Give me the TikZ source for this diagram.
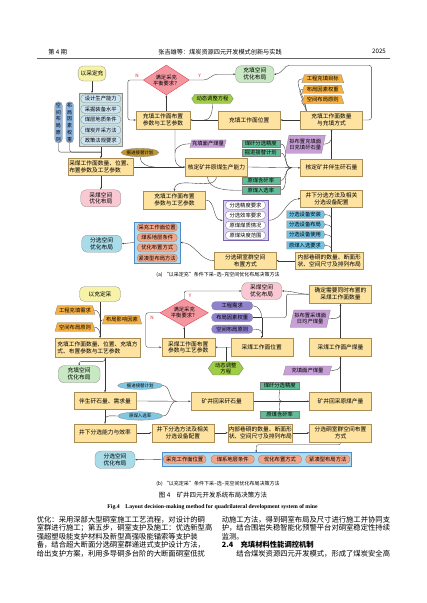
\documentclass[tikz,border=0pt]{standalone}
\usepackage{fontspec}
\setmainfont{Noto Sans CJK SC}
\newfontfamily\enfont{Liberation Serif}
\usepackage{tikz}
\usetikzlibrary{arrows.meta, positioning, calc, shapes.geometric, shapes.symbols, backgrounds}

\newcommand{\pxu}{1.3946pt}
\newcommand{\boxfont}{\fontsize{8pt}{9.6pt}\selectfont}
\newcommand{\tagfont}{\fontsize{7.4pt}{8.4pt}\selectfont}
\newcommand{\ovalfont}{\fontsize{6.2pt}{7pt}\selectfont}
\newcommand{\bodyfont}{\fontsize{10.2pt}{12pt}\selectfont}

\definecolor{boxfill}{RGB}{253,226,160}
\definecolor{boxline}{RGB}{170,140,85}
\definecolor{startfill}{RGB}{246,242,168}
\definecolor{pinkfill}{RGB}{249,200,210}
\definecolor{greenfill}{RGB}{200,232,196}
\definecolor{cyanfill}{RGB}{168,220,232}
\definecolor{decfill}{RGB}{244,150,160}
\definecolor{decline}{RGB}{225,60,75}
\definecolor{hexfill}{RGB}{160,205,70}
\definecolor{trapfill}{RGB}{245,176,65}
\definecolor{parafill}{RGB}{200,160,215}
\definecolor{tealfill}{RGB}{96,190,150}
\definecolor{goldfill}{RGB}{190,150,50}
\definecolor{skyfill}{RGB}{128,200,228}
\definecolor{tagfill}{RGB}{112,196,232}
\definecolor{violfill}{RGB}{145,130,205}
\definecolor{salmfill}{RGB}{242,165,135}
\definecolor{lavfill}{RGB}{218,210,240}
\definecolor{lavline}{RGB}{120,100,175}
\definecolor{mistfill}{RGB}{204,224,218}
\definecolor{icefill}{RGB}{205,228,242}
\definecolor{paleblue}{RGB}{178,218,236}
\definecolor{frameblue}{RGB}{80,140,200}
\definecolor{vblue}{RGB}{140,180,225}
\definecolor{lineclr}{RGB}{55,55,55}
\definecolor{nyred}{RGB}{220,40,40}

\tikzset{
  box/.style={
    rectangle, draw=boxline, fill=boxfill, line width=0.4pt,
    align=center, font=\boxfont, inner sep=1pt,
    minimum width=62*\pxu, minimum height=17.5*\pxu
  },
  start/.style={
    rectangle, rounded corners=7pt, draw=black!45, fill=startfill, line width=0.4pt,
    font=\boxfont, minimum width=22*\pxu, minimum height=15*\pxu
  },
  result/.style={
    rectangle, rounded corners=8pt, draw=black!45, line width=0.4pt,
    align=center, font=\boxfont, minimum width=40*\pxu, minimum height=16.5*\pxu
  },
  decision/.style={
    diamond, aspect=1.6, draw=decline, fill=decfill, line width=0.5pt,
    align=center, font=\tagfont, inner sep=0pt
  },
  hexa/.style={
    signal, signal to=east and west, signal pointer angle=110,
    draw=black!55, fill=hexfill, line width=0.4pt, align=center, font=\tagfont, inner sep=1pt
  },
  trap/.style={
    trapezium, trapezium left angle=68, trapezium right angle=68, trapezium stretches=true,
    draw=black!50, fill=trapfill, line width=0.4pt, font=\tagfont, inner sep=0.5pt,
    minimum width=42*\pxu, minimum height=8*\pxu
  },
  para/.style={
    trapezium, trapezium left angle=72, trapezium right angle=108, trapezium stretches=true,
    draw=black!50, fill=parafill, line width=0.4pt, align=center, font=\tagfont, inner sep=0.5pt
  },
  flag/.style={
    rectangle, draw=black!50, fill=tealfill, line width=0.4pt, font=\tagfont, inner sep=0.5pt,
    minimum width=38*\pxu, minimum height=7.5*\pxu
  },
  oval/.style={
    ellipse, draw=black!50, line width=0.4pt, font=\ovalfont, inner sep=0pt,
    minimum width=42*\pxu, minimum height=8*\pxu
  },
  chip/.style={
    rectangle, rounded corners=5pt, draw=black!50, line width=0.4pt, font=\tagfont,
    inner sep=0.5pt, minimum width=40*\pxu, minimum height=8*\pxu
  },
  tag/.style={
    signal, signal to=east, signal pointer angle=130, draw=black!50, fill=tagfill,
    line width=0.4pt, font=\tagfont, inner sep=0.5pt,
    minimum width=38*\pxu, minimum height=7.5*\pxu
  },
  panel/.style={rectangle, line width=0.5pt, inner sep=0pt},
  arrow/.style={->, >={Stealth[length=3.2pt,width=2.4pt]}, line width=0.5pt, color=lineclr},
  link/.style={line width=0.5pt, color=lineclr},
  yn/.style={text=nyred, font=\fontsize{6.5pt}{7pt}\selectfont, inner sep=0pt},
  bodyline/.style={anchor=west, font=\bodyfont, inner sep=0pt}
}

\begin{document}
\begin{tikzpicture}[x=1.3946pt, y=-1.3946pt]
\useasboundingbox (0,0) rectangle (427,603);

% page head
\node[anchor=west, font=\fontsize{8.6pt}{9pt}\selectfont, inner sep=0pt] (issue) at (48.3,51.7) {第 4 期};
\node[font=\fontsize{8.6pt}{9pt}\selectfont, inner sep=0pt] (runhead) at (220,51.7) {张吉雄等：煤炭资源四元开发模式创新与实践};
\node[anchor=east, font=\fontsize{8.6pt}{9pt}\selectfont, inner sep=0pt] (year) at (386,51.7) {2025};
\draw[black!60, line width=0.6pt] (36.7,58.3) -- (390,58.3);

% ---------- (a) ----------
\node[start] (startA) at (92,73.5) {以采定充};
\node[panel, draw=black!45, fill=mistfill, minimum width=43.7*\pxu, minimum height=52.4*\pxu] (factA) at (100.8,119.5) {};
\node[chip, fill=icefill] (fA1) at (100.8,98.8) {设计生产能力};
\node[chip, fill=icefill] (fA2) at (100.8,109.2) {采掘装备水平};
\node[chip, fill=icefill] (fA3) at (100.8,119.6) {煤层地质条件};
\node[chip, fill=icefill] (fA4) at (100.8,130) {煤炭开采方法};
\node[chip, fill=icefill] (fA5) at (100.8,140.4) {政策法规要求};
\node[chip, fill=vblue, align=center, minimum width=7.5*\pxu, minimum height=41*\pxu,
  font=\fontsize{7pt}{9.4pt}\selectfont] (ruleA) at (58.5,122.3) {空\\间\\布\\局\\原\\则};
\node[chip, fill=vblue, align=center, minimum width=7.5*\pxu, minimum height=41*\pxu,
  font=\fontsize{7pt}{9.4pt}\selectfont] (weightA) at (69.7,122.3) {布\\局\\因\\素\\权\\重};
\node[box, align=left, minimum width=65.4*\pxu, minimum height=17*\pxu] (coalBoxA) at (100.8,167) {采煤工作面数量、位置、\\布置参数及工艺参数};
\node[result, fill=pinkfill] (coalSpaceA) at (100.8,198.3) {采煤空间\\优化布局};

\node[decision, minimum width=46*\pxu, minimum height=30*\pxu] (decA) at (166.3,80) {满足采充\\平衡要求？};
\node[box, minimum width=54*\pxu] (fillParamA) at (163,120) {充填工作面布置\\参数与工艺参数};
\node[hexa, minimum width=41.6*\pxu, minimum height=9*\pxu] (dynA) at (212.5,98.8) {动态调整方程};
\node[box] (fillPosA) at (249.2,120) {充填工作面位置};
\node[box] (fillNumA) at (331.5,120) {充填工作面数量\\与充填方式};
\node[result, fill=greenfill, minimum width=38.3*\pxu, minimum height=15*\pxu] (fillSpaceA) at (254.8,74.2) {充填空间\\优化布局};
\node[trap] (goalA) at (322.8,78.7) {工程充填目标};
\node[trap] (factorA) at (322.8,89.2) {布局因素权重};
\node[trap] (principleA) at (322.8,99.6) {空间布局原则};
\node[para, minimum width=36*\pxu, minimum height=18*\pxu] (dailyA) at (305.3,144.2) {拟布置充填面\\日充填矸石量};

\node[para, minimum width=36*\pxu, minimum height=7.5*\pxu] (fillCoalA) at (208,143.7) {充填面产煤量};
\node[oval, fill=goldfill, minimum width=36.6*\pxu, minimum height=8.4*\pxu] (tunnelA) at (140,152.5) {掘进接替计划};
\node[box] (capA) at (216.5,167) {核定矿井原煤生产能力};
\node[box] (gangueA) at (331.5,167.8) {核定矿井伴生矸石量};
\node[flag] (precA) at (260.8,143.7) {煤矸分选精度};
\node[flag] (planA) at (260.8,152.7) {掘进接替计划};
\node[flag] (rockA) at (260.8,180.7) {原煤含矸率};
\node[flag] (washA) at (260.8,190.3) {原煤入选率};

\node[box] (fillParam2A) at (174.5,200) {充填工作面布置\\参数与工艺参数};
\node[panel, draw=lavline, fill=lavfill, minimum width=45.6*\pxu, minimum height=40.6*\pxu] (reqA) at (245.5,220.3) {};
\node[chip, fill=white, draw=lavline] (reqA1) at (245.5,205.2) {分选精度要求};
\node[chip, fill=white, draw=lavline] (reqA2) at (245.5,215.2) {分选效率要求};
\node[chip, fill=white, draw=lavline] (reqA3) at (245.5,225.3) {原煤煤质情况};
\node[chip, fill=white, draw=lavline] (reqA4) at (245.5,235.4) {原煤块度范围};
\node[box] (sepMethA) at (331.5,198.7) {井下分选方法及相关\\分选设备配置};
\node[tag] (devA1) at (305,214.5) {分选设备安装};
\node[tag] (devA2) at (305,224.5) {分选设备布局};
\node[tag] (devA3) at (305,234.5) {分选设备使用};
\node[tag] (devA4) at (305,245.3) {原煤入选要求};
\node[box, align=left, minimum width=68.3*\pxu, minimum height=16.7*\pxu] (roadA) at (329.2,260.7) {内部巷硐的数量、断面形\\状、空间尺寸及排列布局};
\node[box, minimum height=16.7*\pxu] (chamberA) at (245.3,260.7) {分选硐室群空间\\布置方式};
\node[panel, draw=frameblue, fill=paleblue, minimum width=45.7*\pxu, minimum height=41.6*\pxu] (layoutA) at (157.2,242.5) {};
\node[chip, fill=salmfill] (layA1) at (157.2,227.5) {采充工作面位置};
\node[chip, fill=salmfill] (layA2) at (157.2,237.7) {煤系地层条件};
\node[chip, fill=salmfill] (layA3) at (157.2,247.9) {优化布置方式};
\node[chip, fill=salmfill] (layA4) at (157.2,258.1) {紧凑型布局方法};
\node[result, fill=cyanfill] (sepSpaceA) at (101.7,243.7) {分选空间\\优化布局};

\node[yn] (nA) at (137,75.5) {N};
\node[yn] (yA) at (199.5,75.5) {Y};

\node[font=\fontsize{7pt}{8pt}\selectfont, inner sep=0pt] (capa) at (218,275) {(a) “以采定充”条件下采–选–充空间优化布局决策方法};

% ---------- (b) ----------
\node[start, minimum width=41*\pxu] (startB) at (100,294) {以充定采};
\node[trap, minimum width=40*\pxu, minimum height=8.6*\pxu] (needB) at (75,310) {工程充填需求};
\node[trap, minimum width=40*\pxu, minimum height=8.6*\pxu] (principleB) at (75,327) {空间布局原则};
\node[trap, minimum width=39.3*\pxu, minimum height=8.6*\pxu] (factorB) at (122,319.7) {布局影响因素};
\node[box, align=left, minimum width=85*\pxu, minimum height=18.4*\pxu] (fillBoxB) at (97.5,347.5) {充填工作面数量、位置、充填方\\式、布置参数与工艺参数};
\node[result, fill=greenfill, minimum width=41.7*\pxu, minimum height=15*\pxu] (fillSpaceB) at (79.2,374.2) {充填空间\\优化布局};
\node[oval, fill=skyfill, minimum width=45*\pxu, minimum height=7.6*\pxu] (tunnelB) at (140.2,385.5) {掘进接替计划};
\node[oval, fill=skyfill, minimum width=45*\pxu, minimum height=8.3*\pxu] (washB) at (140.2,416) {原煤入选率};
\node[box, minimum height=17*\pxu] (gangueGenB) at (105,401) {伴生矸石量、需求量};
\node[box] (gangueMineB) at (221.7,401.3) {矿井回采矸石量};
\node[flag, minimum width=39.3*\pxu, minimum height=7.3*\pxu] (precB) at (279.7,385.3) {煤矸分选精度};
\node[flag, minimum width=39.3*\pxu, minimum height=7.6*\pxu] (rockB) at (279.7,414.5) {原煤含矸率};
\node[box] (coalMineB) at (340.5,401.3) {矿井回采原煤产量};
\node[box, minimum height=17.7*\pxu] (sepCapB) at (105,432.8) {井下分选能力与效率};
\node[box, minimum height=17.7*\pxu] (sepMethB) at (182.8,432.8) {井下分选方法及相关\\分选设备配置};
\node[box, align=left, minimum width=64*\pxu, minimum height=17.7*\pxu] (roadB) at (260.3,432.8) {内部巷硐的数量、断面形\\状、空间尺寸及排列布局};
\node[box, minimum height=17.7*\pxu] (chamberB) at (340.5,432.8) {分选硐室群空间布置\\方式};
\node[panel, draw=frameblue, fill=paleblue, minimum width=189*\pxu, minimum height=13.3*\pxu] (layoutB) at (256.2,459.3) {};
\node[chip, fill=salmfill, minimum width=42.7*\pxu] (layB1) at (184.7,459.3) {采充工作面位置};
\node[chip, fill=salmfill, minimum width=43.3*\pxu] (layB2) at (232.7,459.3) {煤系地层条件};
\node[chip, fill=salmfill, minimum width=43.3*\pxu] (layB3) at (280,459.3) {优化布置方式};
\node[chip, fill=salmfill, minimum width=44.3*\pxu] (layB4) at (327.8,459.3) {紧凑型布局方法};
\node[result, fill=cyanfill, minimum height=17.3*\pxu] (sepSpaceB) at (115,459.7) {分选空间\\优化布局};

\node[decision, minimum width=48.3*\pxu, minimum height=27.7*\pxu] (decB) at (184.2,312.8) {满足采充\\平衡要求？};
\node[box, minimum width=53.3*\pxu, minimum height=18*\pxu] (coalParamB) at (188.3,347.3) {采煤工作面布置\\参数与工艺参数};
\node[hexa, minimum width=35*\pxu, minimum height=13.3*\pxu] (dynB) at (225.8,368.3) {动态调整\\方程};
\node[box, minimum height=17.7*\pxu] (coalPosB) at (261.7,347.2) {采煤工作面位置};
\node[chip, fill=violfill, minimum width=41*\pxu, minimum height=8.3*\pxu] (needB2) at (232.2,305.8) {工程需求};
\node[chip, fill=violfill, minimum width=41*\pxu, minimum height=8.3*\pxu] (factorB2) at (232.2,317.5) {布局因素权重};
\node[chip, fill=violfill, minimum width=41*\pxu, minimum height=8.3*\pxu] (principleB2) at (232.2,329.2) {空间布局原则};
\node[result, fill=pinkfill, minimum height=15*\pxu] (coalSpaceB) at (261.7,291) {采煤空间\\优化布局};
\node[box, minimum height=18.3*\pxu] (numB) at (340.5,294.2) {确定需要同时布置的\\采煤工作面数量};
\node[para, minimum width=35*\pxu, minimum height=17.3*\pxu] (dailyB) at (310.2,318.7) {拟布置采煤面\\日均产煤量};
\node[box, minimum height=17.7*\pxu] (coalOutB) at (340.5,347.2) {采煤工作面产煤量};
\node[para, minimum width=48.4*\pxu, minimum height=9*\pxu] (fillCoalB) at (307.5,370.5) {充填面产煤量};

\node[yn] (nB) at (152,317.5) {N};
\node[yn] (yB) at (190,295.5) {Y};

\node[font=\fontsize{7pt}{8pt}\selectfont, inner sep=0pt] (capb) at (218,484) {(b) “以充定采”条件下采–选–充空间优化布局决策方法};
\node[font=\fontsize{9pt}{10pt}\selectfont, inner sep=0pt] (figcn) at (213,495.3) {图 4\quad 矿井四元开发系统布局决策方法};
\node[font=\enfont\bfseries\fontsize{8pt}{9pt}\selectfont, inner sep=0pt] (figen) at (212.5,506.7) {Fig.4\quad Layout decision-making method for quadrilateral development system of mine};

% body text
\node[bodyline] (l1) at (36.7,519.3) {优化：采用深部大型硐室施工工艺流程，对设计的硐};
\node[bodyline] (l2) at (36.7,527.9) {室群进行施工；第五步，硐室支护及施工：优选新型高};
\node[bodyline] (l3) at (36.7,536.5) {强超塑吸能支护材料及新型高强吸能锚索等支护装};
\node[bodyline] (l4) at (36.7,545.1) {备，结合超大断面分选硐室群递进式支护设计方法，};
\node[bodyline] (l5) at (36.7,553.7) {给出支护方案，利用多导硐多台阶的大断面硐室低扰};
\node[bodyline] (r1) at (221.7,519.3) {动施工方法，得到硐室布局及尺寸进行施工并协同支};
\node[bodyline] (r2) at (221.7,527.9) {护，结合围岩失稳智能化预警平台对硐室稳定性持续};
\node[bodyline] (r3) at (221.7,536.5) {监测。};
\node[bodyline] (r4) at (221.7,545.1) {\bfseries 2.4\quad 充填材料性能调控机制};
\node[bodyline] (r5) at (221.7,553.7) {\hspace{2em}结合煤炭资源四元开发模式，形成了煤炭安全高};

\begin{pgfonlayer}{background}
\fill[white] (0,0) rectangle (427,603);
% (a) connectors
\draw[arrow] (startA.south) -- (startA.south |- factA.north);
\draw[arrow] (factA.south) -- (coalBoxA.north);
\draw[link, rounded corners=3pt] (ruleA.south) |- ($(factA.south)!0.5!(coalBoxA.north)$);
\draw[link, rounded corners=3pt] (weightA.south) |- ($(factA.south)!0.5!(coalBoxA.north)$);
\draw[arrow] (coalBoxA.south) -- (coalSpaceA.north);
\draw[arrow] (coalBoxA.east) -- (capA.west);
\draw[link] (tunnelA.south) to[out=-90,in=180] ($(capA.west)+(-31,0)$);
\draw[link] ($(fillParamA.south)+(12,0)$) -- ++(0,29) to[out=-90,in=180] ($(capA.west)+(-3,0)$);
\draw[link] (fillCoalA.west) to[out=180,in=90] ($(fillParamA.south)+(12,24)$);
\draw[arrow] (capA.east) -- (gangueA.west);
\draw[link] (precA.east) to[out=0,in=180] ($(gangueA.west)+(-9,0)$);
\draw[link] (planA.east) to[out=0,in=180] ($(gangueA.west)+(-9,0)$);
\draw[link] (rockA.east) to[out=0,in=180] ($(gangueA.west)+(-9,0)$);
\draw[link] (washA.east) to[out=0,in=180] ($(gangueA.west)+(-9,0)$);
\draw[arrow] (capA.south) to[out=-90,in=90] (fillParam2A.north);
\draw[link] ($(capA.south)+(-9,0)$) to[out=-90,in=180] (washA.west);
\draw[arrow] (fillParam2A.east) to[out=0,in=180] (reqA.west);
\draw[arrow] (reqA.east) to[out=0,in=180] (sepMethA.west);
\draw[arrow] (sepMethA.south) -- (sepMethA.south |- roadA.north);
\draw[link] (devA1.east) to[out=0,in=90] ($(devA1.east -| sepMethA.south)+(0,4)$);
\draw[link] (devA2.east) to[out=0,in=90] ($(devA2.east -| sepMethA.south)+(0,4)$);
\draw[link] (devA3.east) to[out=0,in=90] ($(devA3.east -| sepMethA.south)+(0,4)$);
\draw[link] (devA4.east) to[out=0,in=90] ($(devA4.east -| sepMethA.south)+(0,4)$);
\draw[arrow] (roadA.west) -- (chamberA.east);
\draw[arrow] (chamberA.west) to[out=180,in=0] (layoutA.east);
\draw[arrow] (layoutA.west) -- (sepSpaceA.east);
\draw[arrow] (fillParamA.north -| decA.south) -- (decA.south);
\draw[arrow, rounded corners=3pt] (decA.west) -| ($(fillParamA.west)+(-8,0)$) -- (fillParamA.west);
\draw[arrow] (decA.east) -- ++(14,0) to[out=0,in=180] ($(fillSpaceA.west)+(-18,0)$) -- (fillSpaceA.west);
\draw[link] (dynA.south) to[out=-90,in=0] ($(fillParamA.east)+(14,0)$);
\draw[arrow] (fillPosA.west) -- (fillParamA.east);
\draw[arrow] (fillNumA.west) -- (fillPosA.east);
\draw[link] (goalA.west) to[out=180,in=90] ($(fillNumA.north west)+(6,0)$);
\draw[link] (factorA.west) to[out=180,in=90] ($(fillNumA.north west)+(6,0)$);
\draw[link] (principleA.west) to[out=180,in=90] ($(fillNumA.north west)+(6,0)$);
\draw[arrow, rounded corners=4pt] (fillNumA.east) -- ++(9,0) |- ($(fillSpaceA.east)+(18,-9)$) to[out=180,in=0] (fillSpaceA.east);
\draw[arrow] (gangueA.north) -- (fillNumA.south);
\draw[link] (dailyA.east) to[out=0,in=-90] ($(gangueA.north)+(0,-21)$);

% (b) connectors
\coordinate (axisB) at (startB.south |- fillBoxB.north);
\draw[arrow] (startB.south) -- (axisB);
\draw[link] (needB.east) to[out=0,in=90] ($(startB.south)!0.45!(axisB)$);
\draw[link] (factorB.west) to[out=180,in=90] ($(startB.south)!0.68!(axisB)$);
\draw[link] (principleB.east) to[out=0,in=90] ($(startB.south)!0.9!(axisB)$);
\draw[arrow, rounded corners=3pt] (fillBoxB.south -| gangueGenB.north) -- ++(0,4.5) -| (fillSpaceB.north);
\draw[arrow] (fillBoxB.south -| gangueGenB.north) -- (gangueGenB.north);
\draw[arrow] (gangueGenB.east) -- (gangueMineB.west);
\coordinate (jGB) at ($(gangueMineB.west)+(-14,0)$);
\draw[link] (tunnelB.east) to[out=0,in=180] (jGB);
\draw[link] (washB.east) to[out=0,in=180] (jGB);
\draw[arrow] (gangueGenB.south) -- (sepCapB.north);
\draw[link] (washB.west) to[out=180,in=90] ($(gangueGenB.south)!0.7!(sepCapB.north)$);
\draw[arrow] (gangueMineB.east) -- (coalMineB.west);
\coordinate (jMB) at ($(coalMineB.west)+(-27.5,0)$);
\draw[link] (precB.south) to[out=-90,in=180] (jMB);
\draw[link] (rockB.north) to[out=90,in=180] (jMB);
\draw[arrow] (sepCapB.east) -- (sepMethB.west);
\draw[arrow] (sepMethB.east) -- (roadB.west);
\draw[arrow] (roadB.east) -- (chamberB.west);
\draw[arrow, rounded corners=3pt] (chamberB.south) -- ++(0,3) -| (layoutB.north);
\draw[arrow] (layoutB.west) -- (sepSpaceB.east);
\draw[arrow] (coalMineB.north) -- (coalOutB.south);
\draw[link] (fillCoalB.east) to[out=0,in=-90] ($(coalOutB.south)!0.25!(coalMineB.north)$);
\draw[arrow] (coalOutB.north) -- (numB.south);
\draw[link] (dailyB.east) to[out=0,in=-90] ($(numB.south)!0.3!(coalOutB.north)$);
\draw[arrow] (numB.west) to[out=180,in=0] (coalSpaceB.east);
\coordinate (jPB) at (coalPosB.north |- factorB2.east);
\draw[link, rounded corners=3pt] (numB.west) -- ++(-23,0) |- (jPB);
\draw[link] (factorB2.east) -- (jPB);
\draw[link] (needB2.east) to[out=0,in=90] (jPB);
\draw[arrow] (jPB) -- (coalPosB.north);
\draw[link] (principleB2.east) to[out=0,in=90] ($(jPB)!0.75!(coalPosB.north)$);
\draw[arrow] (coalPosB.west) -- (coalParamB.east);
\draw[link] (dynB.north) -- (dynB.north |- coalPosB.west);
\draw[arrow] (coalParamB.north -| decB.south) -- (decB.south);
\draw[arrow, rounded corners=3pt] (decB.west) -| ($(coalParamB.west)+(-15.7,0)$) -- (coalParamB.west);
\draw[arrow, rounded corners=3pt] (decB.north) |- (coalSpaceB.west);
\end{pgfonlayer}
\end{tikzpicture}
\end{document}
